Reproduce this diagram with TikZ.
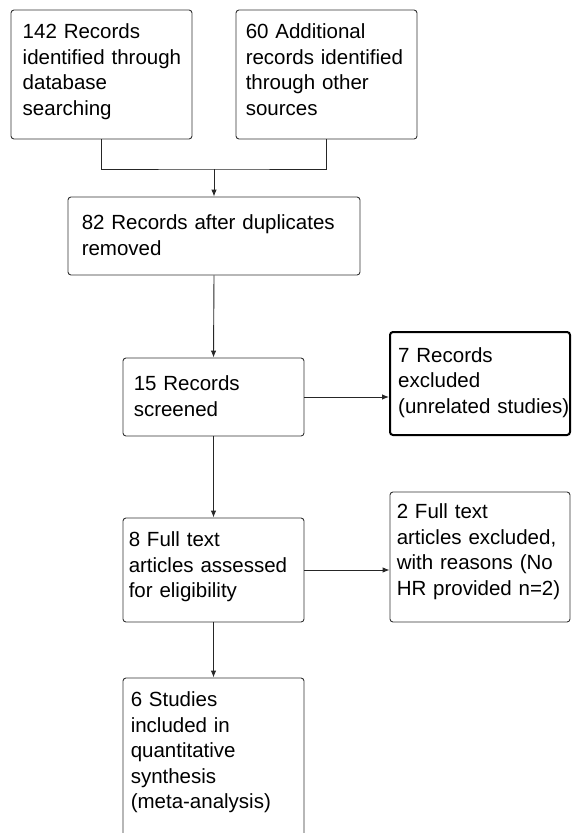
\documentclass[tikz,border=0pt]{standalone}
\usepackage{fontspec}
\setmainfont{Liberation Sans}
\usetikzlibrary{arrows.meta}

\tikzset{
  box/.style={draw=black!80, line width=0.9pt, rounded corners=3pt, fill=white, inner sep=0pt},
  thickbox/.style={box, line width=2pt, draw=black},
  txt/.style={text width=280pt, align=left, inner sep=0pt, anchor=base west, font=\fontsize{20.5}{25.5}\selectfont},
  arr/.style={draw=black!85, line width=0.9pt, -{Latex[length=7pt,width=5.5pt]}},
  link/.style={draw=black!85, line width=0.9pt}
}

\begin{document}
\begin{tikzpicture}[x=1pt,y=-1pt]
\useasboundingbox (0,0) rectangle (571,833);

% boxes
\node [box, minimum width=181pt, minimum height=129pt] (ident) at (101.5,74.5) {};
\node [box, minimum width=181pt, minimum height=129pt] (other) at (326.5,74.5) {};
\node [box, minimum width=292pt, minimum height=78pt] (dedup) at (214,236) {};
\node [box, minimum width=181pt, minimum height=78pt] (screen) at (213.5,397) {};
\node [thickbox, minimum width=180pt, minimum height=103pt] (excl) at (480,383.5) {};
\node [box, minimum width=181pt, minimum height=104pt] (full) at (213.5,570) {};
\node [box, minimum width=180pt, minimum height=130pt] (fullexcl) at (480,557) {};
\node [box, minimum width=181pt, minimum height=180pt] (incl) at (213.5,768) {};

% texts
\node [txt] (identtxt) at ([shift={(12pt,-29pt)}]ident.north west) {142 Records\\identified through\\database\\searching};
\node [txt] (othertxt) at ([shift={(10pt,-29pt)}]other.north west) {60 Additional\\records identified\\through other\\sources};
\node [txt] (deduptxt) at ([shift={(14pt,-33pt)}]dedup.north west) {82 Records after duplicates\\removed};
\node [txt] (screentxt) at ([shift={(11pt,-33pt)}]screen.north west) {15 Records\\screened};
\node [txt] (excltxt) at ([shift={(9pt,-31pt)}]excl.north west) {7 Records\\excluded\\(unrelated studies)};
\node [txt] (fulltxt) at ([shift={(6pt,-29pt)}]full.north west) {8 Full text\\articles assessed\\for eligibility};
\node [txt] (fullexcltxt) at ([shift={(7pt,-27pt)}]fullexcl.north west) {2 Full text\\articles excluded,\\with reasons (No\\HR provided n=2)};
\node [txt] (incltxt) at ([shift={(8pt,-29pt)}]incl.north west) {6 Studies\\included in\\quantitative\\synthesis\\(meta-analysis)};

% connectors
\coordinate (join) at (214,169);
\draw [link] (ident.south) |- (join) -| (other.south);
\draw [arr] (join) -- (dedup.north);
\draw [arr] (dedup.south) -- (screen.north);
\draw [arr] (screen.east) -- (screen.east -| excl.west);
\draw [arr] (screen.south) -- (full.north);
\draw [arr] (full.east) -- (full.east -| fullexcl.west);
\draw [arr] (full.south) -- (incl.north);

\end{tikzpicture}
\end{document}
